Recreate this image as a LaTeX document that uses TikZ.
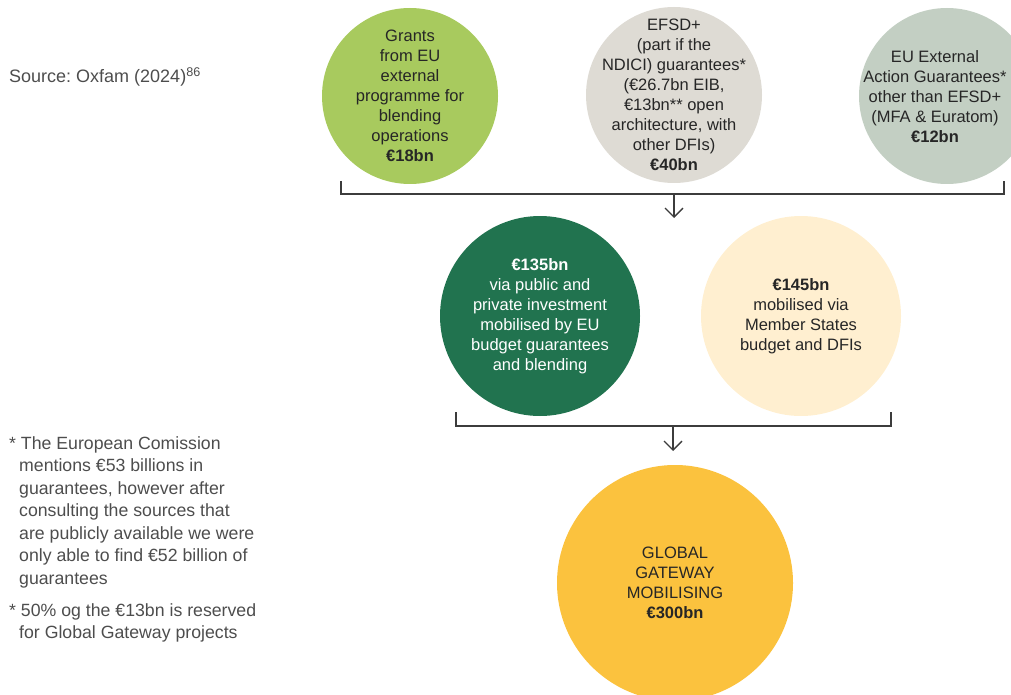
\documentclass[tikz,border=0pt]{standalone}
\usepackage{fontspec}
\setmainfont{Liberation Sans}
\usetikzlibrary{arrows.meta}
\frenchspacing

\definecolor{grantgreen}{RGB}{168,202,94}
\definecolor{efsdgrey}{RGB}{222,219,212}
\definecolor{sagegrey}{RGB}{195,207,195}
\definecolor{forest}{RGB}{33,115,79}
\definecolor{cream}{RGB}{255,239,208}
\definecolor{gold}{RGB}{251,194,62}
\definecolor{ink}{RGB}{38,38,38}
\definecolor{notegrey}{RGB}{77,77,77}
\definecolor{rulegrey}{RGB}{60,60,60}

\begin{document}
\begin{tikzpicture}[x=1pt,y=-1pt,
  bubble/.style={circle, inner sep=0pt, minimum size=#1},
  bubbletext/.style={align=center, text=ink, inner sep=0pt,
    font=\fontsize{16.5}{20}\selectfont},
  bracket/.style={draw=rulegrey, line width=1.3pt},
  flow/.style={draw=rulegrey, line width=1.3pt,
    -{Straight Barb[length=9pt,width=18pt,line width=1.3pt]}},
  note/.style={anchor=north west, inner sep=0pt, text=notegrey,
    font=\fontsize{17.7}{22.5}\selectfont}
]
\useasboundingbox (0,0) rectangle (1011,695);

% source line
\node[anchor=base west, inner sep=0pt, text=notegrey,
  font=\fontsize{18}{20}\selectfont] (source) at (9,83)
  {Source: Oxfam (2024)\textsuperscript{86}};

% top row of funding sources
\node[bubble=176pt, fill=grantgreen] (grants) at (410,96) {};
\node[bubbletext] (grantstext) at (grants.center)
  {Grants\\from EU\\external\\programme for\\blending\\operations\\\textbf{€18bn}};

\node[bubble=176pt, fill=efsdgrey] (efsd) at (674,95) {};
\node[bubbletext] (efsdtext) at (efsd.center)
  {EFSD+\\(part if the\\NDICI) guarantees*\\(€26.7bn EIB,\\€13bn** open\\architecture, with\\other DFIs)\\\textbf{€40bn}};

\node[bubble=176pt, fill=sagegrey] (action) at (947,96) {};
\node[bubbletext] (actiontext) at (935,97)
  {EU External\\Action Guarantees*\\other than EFSD+\\(MFA \& Euratom)\\\textbf{€12bn}};

% first bracket
\coordinate (b1l) at (341,181);
\coordinate (b1r) at (1004,181);
\coordinate (b1m) at (674,194);
\coordinate (b1tip) at (674,218);
\draw[bracket] (b1l) |- (b1m) -| (b1r);
\draw[flow] (b1m) -- (b1tip);

% middle row
\node[bubble=200pt, fill=forest] (public) at (540,316) {};
\node[bubbletext, text=white] (publictext) at (public.center)
  {\textbf{€135bn}\\via public and\\private investment\\mobilised by EU\\budget guarantees\\and blending};

\node[bubble=200pt, fill=cream] (member) at (801,316) {};
\node[bubbletext] (membertext) at (member.center)
  {\textbf{€145bn}\\mobilised via\\Member States\\budget and DFIs};

% second bracket
\coordinate (b2l) at (456,412);
\coordinate (b2r) at (891,412);
\coordinate (b2m) at (673,426);
\coordinate (b2tip) at (673,451);
\draw[bracket] (b2l) |- (b2m) -| (b2r);
\draw[flow] (b2m) -- (b2tip);

% total
\node[bubble=236pt, fill=gold] (total) at (675,583) {};
\node[bubbletext] (totaltext) at (total.center)
  {GLOBAL\\GATEWAY\\MOBILISING\\\textbf{€300bn}};

% footnotes
\node[note] (note1) at (9,436)
  {\parbox[t]{270pt}{\hangindent=10pt\hangafter=1
  * The European Comission\\mentions €53 billions in\\guarantees, however after\\consulting the sources that\\are publicly available we were\\only able to find €52 billion of\\guarantees}};
\node[note] (note2) at (9,603)
  {\parbox[t]{270pt}{\hangindent=10pt\hangafter=1
  * 50\% og the €13bn is reserved\\for Global Gateway projects}};
\end{tikzpicture}
\end{document}
